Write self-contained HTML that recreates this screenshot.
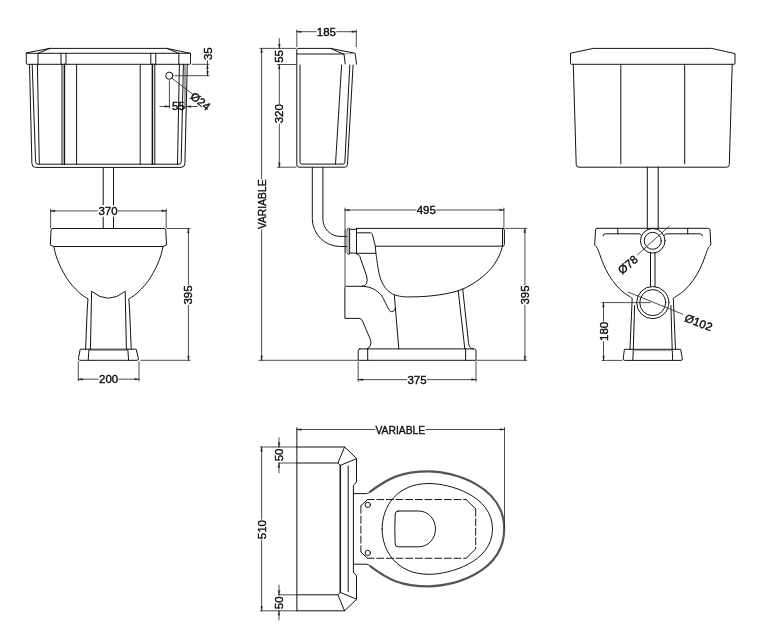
<!DOCTYPE html>
<html>
<head>
<meta charset="utf-8">
<title>Low level WC - technical drawing</title>
<style>
html,body{margin:0;padding:0;background:#fff;}
body{width:759px;height:643px;overflow:hidden;font-family:"Liberation Sans",sans-serif;}
svg{display:block;filter:grayscale(1);}
svg line,svg path,svg circle{fill:none;stroke:#141414;stroke-width:1.0;stroke-linecap:round;stroke-linejoin:round;}
svg .hv{stroke-width:1.5;}
svg .md{stroke-width:1.2;}
svg .thk{stroke-width:2.2;stroke:#555;}
svg .lt{stroke:#777;stroke-width:0.7;}
svg .dsh{stroke-linecap:butt;}
svg .gry{fill:#b4b0b0;stroke:none;}
svg .ar{fill:#1c1c1c;stroke:#1c1c1c;stroke-width:0.3;}
svg .bg{fill:#fff;stroke:none;}
svg text{font-family:"Liberation Sans",sans-serif;fill:#0c0c0c;stroke:#0c0c0c;stroke-width:0.38;text-anchor:middle;}
svg .dm line{stroke-width:0.85;stroke:#2e2e2e;}
</style>
</head>
<body>
<svg width="759" height="643" viewBox="0 0 759 643">
<rect x="0" y="0" width="759" height="643" fill="#ffffff"/>
<g class="geo">
<path d="M50,48.4 L166.8,48.4 L190.5,53.3 L190.5,63.3 Q190.5,64.3 189.5,64.3 L27.3,64.3 Q26.3,64.3 26.3,63.3 L26.3,53.3 Z"/>
<line x1="26.3" y1="53.3" x2="190.5" y2="53.3"/>
<line x1="38" y1="53.3" x2="38" y2="64.3"/>
<line x1="178.8" y1="53.3" x2="178.8" y2="64.3"/>
<line x1="61" y1="53.3" x2="61" y2="64.3"/>
<line x1="155.8" y1="53.3" x2="155.8" y2="64.3"/>
<line x1="66" y1="53.3" x2="66" y2="64.3"/>
<line x1="150.8" y1="53.3" x2="150.8" y2="64.3"/>
<line x1="38" y1="53.3" x2="50" y2="48.4"/>
<line x1="178.8" y1="53.3" x2="166.8" y2="48.4"/>
<path d="M29.5,64.3 L31.9,163.6 Q32.1,167.4 35.6,167.4 L181.2,167.4 Q184.7,167.4 184.9,163.6 L187.3,64.3"/>
<path d="M32.2,64.3 L35.6,161.8 Q35.8,164.2 37.8,164.2 L179,164.2 Q181,164.2 181.2,161.8 L183.4,64.3"/>
<line x1="37.4" y1="64.3" x2="39.3" y2="164.2"/>
<line x1="179.4" y1="64.3" x2="177.5" y2="164.2"/>
<line x1="62" y1="64.3" x2="62" y2="164.2"/>
<line x1="154.8" y1="64.3" x2="154.8" y2="164.2"/>
<line x1="64.4" y1="64.3" x2="64.4" y2="164.2" class="hv"/>
<line x1="152.4" y1="64.3" x2="152.4" y2="164.2" class="hv"/>
<line x1="76.6" y1="64.3" x2="76.6" y2="164.2"/>
<line x1="140.2" y1="64.3" x2="140.2" y2="164.2"/>
<line x1="103.2" y1="167.4" x2="103.2" y2="228.4"/>
<line x1="113.5" y1="167.4" x2="113.5" y2="228.4"/>
<circle cx="169.3" cy="75.7" r="3.6"/>
<path d="M52.7,228.5 L164.1,228.5 Q165.8,228.5 165.8,230.6 L166.5,245 L163,246.5 L53.8,246.5 L50.3,245 L51,230.6 Q51,228.5 52.7,228.5 Z"/>
<path d="M53.8,246.6 C54.15,248.03 55.01,252.31 55.9,255.2 C56.79,258.09 57.88,261.04 59.15,263.95 C60.42,266.86 61.87,269.74 63.5,272.65 C65.13,275.56 66.95,278.67 68.95,281.4 C70.95,284.12 73.33,286.73 75.5,289 C77.67,291.27 79.92,293.37 82,295 C84.08,296.63 87,298.17 88,298.8 L87.2,310 L85.6,349.2"/>
<path d="M163,246.6 C162.65,248.03 161.79,252.31 160.9,255.2 C160.01,258.09 158.92,261.04 157.65,263.95 C156.38,266.86 154.93,269.74 153.3,272.65 C151.67,275.56 149.85,278.67 147.85,281.4 C145.85,284.12 143.48,286.73 141.3,289 C139.12,291.27 136.88,293.37 134.8,295 C132.72,296.63 129.8,298.17 128.8,298.8 L129.6,310 L131.2,349.2"/>
<path d="M90.4,349.2 L91.6,291.3 Q108.4,305.2 125.2,291.3 L126.4,349.2"/>
<path d="M80.6,349.2 L136.2,349.2 L138.4,358.6 Q138.7,360.3 136.8,360.3 L80,360.3 Q78.1,360.3 78.4,358.6 Z"/>
<line x1="89" y1="349.2" x2="88.2" y2="360.3"/>
<line x1="127.8" y1="349.2" x2="128.6" y2="360.3"/>
<line x1="89" y1="350.5" x2="127.8" y2="350.5" class="lt"/>
<path d="M296.8,64.4 L296.8,49.4 Q296.8,48.4 297.8,48.4 L330.6,48.4 L355.2,53.3 L356.5,64.2"/>
<line x1="296.8" y1="54" x2="344" y2="54" class="md"/>
<line x1="344" y1="54" x2="355.2" y2="53.5" class="lt"/>
<path d="M330.6,48.4 L344,54.3 L345.2,63.9"/>
<path d="M296.8,65 L296.8,164.8 Q296.8,167.2 299.2,167.2 L344.8,167.2 Q347.2,167.2 347.45,164.8 L353.1,65"/>
<path d="M300,65 L300,162.3 Q300,164.1 301.8,164.1 L343,164.1 Q344.7,164.1 344.85,162.3 L349.8,65"/>
<line x1="341.6" y1="65" x2="335.5" y2="164.1"/>
<rect x="344.5" y="229.2" width="4.3" height="23.5" class="gry"/>
<path d="M312.3,167.2 L312.3,218.6 A27.9,27.9 0 0 0 340.2,246.5 L346.6,246.5"/>
<path d="M322.9,167.2 L322.9,219.2 A17.2,17.2 0 0 0 340.1,236.4 L346.6,236.4"/>
<path d="M347.5,229.3 Q347.7,228.2 348.7,228.2 L349.2,228.2 Q349.6,228.4 349.6,229.2 L349.6,253.4 Q349.6,254.2 349.2,254.4 L348.7,254.4 Q347.7,254.4 347.5,253.3"/>
<line x1="349.6" y1="229.3" x2="356.5" y2="229.3"/>
<line x1="349.6" y1="253.1" x2="356.5" y2="253.1"/>
<line x1="356.5" y1="228.3" x2="356.5" y2="253.5"/>
<path d="M356.6,228.4 L502.6,228.4 Q504.4,228.4 504.4,230.2 L504.4,244.4 Q504.4,246.2 502.6,246.2 L375.3,246.2"/>
<line x1="502.5" y1="228.4" x2="502.5" y2="246.2"/>
<path d="M356.6,232.8 L370.4,232.8 Q372,232.8 372.4,234.4 L375.3,246.2 L375.9,253.3  C376.32,256.04 377.57,265.35 378.4,269.75 C379.23,274.15 379.75,276.69 380.9,279.7 C382.05,282.71 383.78,285.68 385.3,287.8 C386.82,289.92 388.48,291.22 390,292.4 C391.52,293.58 393.67,294.48 394.4,294.9"/>
<line x1="356.6" y1="253.3" x2="375.9" y2="253.3"/>
<path d="M502.5,246.2 C502,247.67 500.92,251.9 499.5,255 C498.08,258.1 495.92,262 494,264.8 C492.08,267.6 490.33,269.47 488,271.8 C485.67,274.13 482.83,276.63 480,278.8 C477.17,280.97 474.03,283.02 471,284.8 C467.97,286.58 465.3,288.15 461.8,289.5 C458.3,290.85 453.97,291.98 450,292.9 C446.03,293.82 442.17,294.42 438,295 C433.83,295.58 429.67,296.08 425,296.4 C420.33,296.72 413.92,296.88 410,296.9 C406.08,296.92 404.1,296.83 401.5,296.5 C398.9,296.17 395.58,295.17 394.4,294.9"/>
<line x1="394.3" y1="294.9" x2="398.8" y2="348.9"/>
<line x1="458.2" y1="290.4" x2="464.8" y2="348.9"/>
<path d="M462.7,288.9 L468.6,343.5 Q469.2,348.9 473.5,348.9"/>
<path d="M356.6,253.8 Q358.9,254.3 359.8,256.4 L366.6,276 Q367.8,281 366.5,283.5 Q365.2,286.3 361.8,286.3 L346.3,286.3 Q344.9,286.3 344.9,287.7 L344.9,318.4 L359.2,318.4 Q361.3,318.6 362.5,321 L370.4,339.5 Q371.6,343.2 370.2,345.8 Q369,348.2 367,348.9"/>
<path d="M361.8,286.3 C362.5,286.35 364.47,286.33 366,286.6 C367.53,286.87 369.45,287.33 371,287.9 C372.55,288.47 373.97,289.18 375.3,290 C376.63,290.82 377.92,291.8 379,292.8 C380.08,293.8 381,294.87 381.8,296 C382.6,297.13 383.13,298.35 383.8,299.6 C384.47,300.85 385.13,302.17 385.8,303.5 C386.47,304.83 387.18,306.45 387.8,307.6 C388.42,308.75 388.93,309.73 389.5,310.4 C390.07,311.07 390.62,311.43 391.2,311.6 C391.78,311.77 392.43,311.67 393,311.4 C393.57,311.13 394.22,310.6 394.6,310 C394.98,309.4 395.18,308.17 395.3,307.8"/>
<path d="M359.8,348.9 L474.4,348.9 Q476,349.2 476,351 L476,360.3 L358.2,360.3 L358.2,351 Q358.2,349.2 359.8,348.9 Z"/>
<line x1="367.7" y1="348.9" x2="367.7" y2="360.3"/>
<line x1="465.6" y1="348.9" x2="465.6" y2="360.3"/>
<path d="M593.75,48.4 L711.75,48.4 L735,53.6 L735,63.3 Q735,64.3 734,64.3 L571.5,64.3 Q570.5,64.3 570.5,63.3 L570.5,53.6 Z"/>
<path d="M573.3,64.3 L576.2,164.6 Q576.3,167.2 578.9,167.2 L726.6,167.2 Q729.2,167.2 729.3,164.6 L732.2,64.3"/>
<line x1="620.8" y1="65" x2="620.8" y2="163.8"/>
<line x1="684.7" y1="65" x2="684.7" y2="163.8"/>
<line x1="647.3" y1="167.2" x2="647.3" y2="229.2"/>
<line x1="658.2" y1="167.2" x2="658.2" y2="229.2"/>
<path d="M597.2,228.3 Q595.6,228.3 595.5,230 L594.7,244 Q594.7,245.6 595.8,246.3 L597,247.3  C597.48,248.55 598.83,251.98 599.9,254.8 C600.97,257.62 601.88,260.8 603.4,264.2 C604.92,267.6 606.9,271.73 609,275.2 C611.1,278.67 613.67,282.2 616,285 C618.33,287.8 620.77,290.1 623,292 C625.23,293.9 627.87,295.35 629.4,296.4 C630.93,297.45 631.73,297.98 632.2,298.3 L630.0,349.3"/>
<path d="M597.2,228.3 L708.3,228.3 Q709.9,228.3 710,230 L710.8,244 Q710.8,245.6 709.7,246.3 L708.5,247.3  C708.02,248.55 706.67,251.98 705.6,254.8 C704.53,257.62 703.62,260.8 702.1,264.2 C700.58,267.6 698.6,271.73 696.5,275.2 C694.4,278.67 691.83,282.2 689.5,285 C687.17,287.8 684.73,290.1 682.5,292 C680.27,293.9 677.63,295.35 676.1,296.4 C674.57,297.45 673.77,297.98 673.3,298.3 L675.5,349.3"/>
<path d="M603.1,235.8 Q603.3,233.8 605.4,233.8 L639,233.8 Q640.6,233.9 641.2,235.4"/>
<path d="M702.4,235.8 Q702.2,233.8 700.1,233.8 L666.5,233.8 Q664.9,233.9 664.3,235.4"/>
<line x1="617.8" y1="228.3" x2="617.8" y2="233.8"/>
<line x1="687.7" y1="228.3" x2="687.7" y2="233.8"/>
<circle cx="652.75" cy="240.8" r="12.3"/>
<circle cx="652.75" cy="240.8" r="8.5"/>
<circle cx="652.75" cy="302.6" r="16.1"/>
<circle cx="652.75" cy="302.6" r="13"/>
<line x1="650.5" y1="252.9" x2="650.5" y2="286.7"/>
<line x1="655" y1="252.9" x2="655" y2="286.7"/>
<line x1="634.6" y1="305.5" x2="633.3" y2="349.3"/>
<line x1="670.9" y1="305.5" x2="672.2" y2="349.3"/>
<path d="M624.8,349.3 L680.7,349.3 L682.3,358.7 Q682.6,360.4 680.9,360.4 L624.6,360.4 Q622.9,360.4 623.2,358.7 Z"/>
<line x1="633.3" y1="349.3" x2="632.8" y2="360.4"/>
<line x1="672.2" y1="349.3" x2="672.7" y2="360.4"/>
<line x1="633.3" y1="350.6" x2="672.2" y2="350.6" class="lt"/>
<line x1="296.9" y1="427.6" x2="296.9" y2="610.8"/>
<path d="M296.9,447 L344.6,447 L356.5,458.4 L356.5,481.9 L353.4,485.5 L353.4,572.3 L356.5,575.9 L356.5,599.4 L344.6,610.8 L296.9,610.8"/>
<line x1="296.9" y1="463" x2="337.9" y2="463"/>
<path d="M344.6,447 L337.9,463 L340.3,465.4 L356.3,458.7"/>
<line x1="296.9" y1="594.8" x2="337.9" y2="594.8"/>
<path d="M344.6,610.8 L337.9,594.8 L340.3,592.4 L356.3,599.1"/>
<line x1="340.3" y1="465.4" x2="340.3" y2="592.4" class="hv"/>
<line x1="348.2" y1="466" x2="348.2" y2="591.8"/>
<path d="M353.4,493.6 L366.3,493.6 Q368.8,493.5 370.5,491.5"/>
<path d="M353.4,564.2 L366.3,564.2 Q368.8,564.3 370.5,566.3"/>
<path d="M370.5,491.5 C387.7,478.6 400.7,471.4 429,471.4 C453.8,471.4 504.2,486.1 504.2,528.9 C504.2,571.7 453.8,586.4 429,586.4 C400.7,586.4 387.7,579.2 370.5,566.3" class="thk"/>
<path d="M382.1,528.9 C382.1,506.4 397,483.5 429,483.5 C449.3,483.5 492.5,495.5 492.5,528.9 C492.5,562.3 449.3,574.3 429,574.3 C397,574.3 382.1,551.4 382.1,528.9 Z"/>
<path d="M398.2,511 L418.8,511 A16.7,17.9 0 0 1 418.8,546.8 L398.2,546.8 Q395.4,546.8 395.2,543.8 Q394.4,528.9 395.2,514 Q395.4,511 398.2,511 Z"/>
<path d="M367.6,499.55 H466.2" class="dsh" stroke-dasharray="7.65 2" stroke-dashoffset="0.8"/>
<line x1="360.9" y1="505.7" x2="367.6" y2="499.55"/>
<line x1="466.2" y1="499.55" x2="475.7" y2="508.9"/>
<path d="M367.6,558.25 H466.2" class="dsh" stroke-dasharray="7.65 2" stroke-dashoffset="0.8"/>
<line x1="360.9" y1="552.1" x2="367.6" y2="558.25"/>
<line x1="466.2" y1="558.25" x2="475.7" y2="548.9"/>
<path d="M360.9,505.7 V552.1" class="dsh" stroke-dasharray="8 1.95"/>
<path d="M475.7,508.9 V548.9" class="dsh" stroke-dasharray="7.75 1.75"/>
<circle cx="367.8" cy="504.9" r="2.65"/>
<circle cx="367.8" cy="552.9" r="2.65"/>
</g>
<g class="dm">
<line x1="50.6" y1="209.2" x2="50.6" y2="228.2"/>
<line x1="166.2" y1="209.2" x2="166.2" y2="228.2"/>
<line x1="50.6" y1="210.9" x2="166.2" y2="210.9"/>
<path d="M50.6,210.9 L55,210.1 L55,211.7 Z" class="ar"/>
<path d="M166.2,210.9 L161.8,211.7 L161.8,210.1 Z" class="ar"/>
<line x1="167.2" y1="228.5" x2="190.2" y2="228.5"/>
<line x1="140.8" y1="360.3" x2="190.2" y2="360.3"/>
<line x1="188.4" y1="228.5" x2="188.4" y2="360.3"/>
<path d="M188.4,228.5 L189.2,232.9 L187.6,232.9 Z" class="ar"/>
<path d="M188.4,360.3 L187.6,355.9 L189.2,355.9 Z" class="ar"/>
<line x1="78.3" y1="361.6" x2="78.3" y2="381"/>
<line x1="139" y1="361.6" x2="139" y2="381"/>
<line x1="78.3" y1="379.2" x2="139" y2="379.2"/>
<path d="M78.3,379.2 L82.7,378.4 L82.7,380 Z" class="ar"/>
<path d="M139,379.2 L134.6,380 L134.6,378.4 Z" class="ar"/>
<line x1="192" y1="64.3" x2="209" y2="64.3"/>
<line x1="175" y1="75.7" x2="209" y2="75.7"/>
<line x1="207.5" y1="60.5" x2="207.5" y2="75.7"/>
<path d="M207.5,64.3 L208.3,68.7 L206.7,68.7 Z" class="ar"/>
<path d="M207.5,75.7 L206.7,71.3 L208.3,71.3 Z" class="ar"/>
<line x1="169.4" y1="80.6" x2="169.4" y2="108.2"/>
<line x1="185" y1="65" x2="185" y2="108.2"/>
<line x1="160" y1="106.5" x2="169.4" y2="106.5"/>
<path d="M169.4,106.5 L165,107.3 L165,105.7 Z" class="ar"/>
<line x1="186.6" y1="106.5" x2="197.4" y2="106.5"/>
<path d="M186.6,106.5 L191,105.7 L191,107.3 Z" class="ar"/>
<line x1="171.9" y1="78.2" x2="193.2" y2="94.6"/>
<line x1="296.8" y1="30" x2="296.8" y2="46.7"/>
<line x1="356.3" y1="30" x2="356.3" y2="46.7"/>
<line x1="296.8" y1="31.7" x2="356.3" y2="31.7"/>
<path d="M296.8,31.7 L301.2,30.9 L301.2,32.5 Z" class="ar"/>
<path d="M356.3,31.7 L351.9,32.5 L351.9,30.9 Z" class="ar"/>
<line x1="260" y1="48.4" x2="295.6" y2="48.4"/>
<line x1="277.5" y1="64.5" x2="295.8" y2="64.5"/>
<line x1="277.5" y1="167.2" x2="296" y2="167.2"/>
<line x1="279.3" y1="38.7" x2="279.3" y2="48.4"/>
<path d="M279.3,48.4 L278.5,44 L280.1,44 Z" class="ar"/>
<line x1="279.3" y1="64.5" x2="279.3" y2="167.2"/>
<path d="M279.3,64.5 L280.1,68.9 L278.5,68.9 Z" class="ar"/>
<path d="M279.3,167.2 L278.5,162.8 L280.1,162.8 Z" class="ar"/>
<line x1="258.8" y1="360.3" x2="357.4" y2="360.3"/>
<line x1="261.6" y1="48.4" x2="261.6" y2="360.3"/>
<path d="M261.6,48.4 L262.4,52.8 L260.8,52.8 Z" class="ar"/>
<path d="M261.6,360.3 L260.8,355.9 L262.4,355.9 Z" class="ar"/>
<line x1="345" y1="208" x2="345" y2="286"/>
<line x1="503.9" y1="208" x2="503.9" y2="228"/>
<line x1="345" y1="210" x2="503.9" y2="210"/>
<path d="M345,210 L349.4,209.2 L349.4,210.8 Z" class="ar"/>
<path d="M503.9,210 L499.5,210.8 L499.5,209.2 Z" class="ar"/>
<line x1="505.4" y1="228.4" x2="526.6" y2="228.4"/>
<line x1="477.2" y1="360.3" x2="526.6" y2="360.3"/>
<line x1="524.9" y1="228.4" x2="524.9" y2="360.3"/>
<path d="M524.9,228.4 L525.7,232.8 L524.1,232.8 Z" class="ar"/>
<path d="M524.9,360.3 L524.1,355.9 L525.7,355.9 Z" class="ar"/>
<line x1="358.2" y1="361.7" x2="358.2" y2="381.4"/>
<line x1="476" y1="361.7" x2="476" y2="381.4"/>
<line x1="358.2" y1="379.6" x2="476" y2="379.6"/>
<path d="M358.2,379.6 L362.6,378.8 L362.6,380.4 Z" class="ar"/>
<path d="M476,379.6 L471.6,380.4 L471.6,378.8 Z" class="ar"/>
<line x1="637.6" y1="254.7" x2="669.2" y2="226.3"/>
<line x1="628.3" y1="292.1" x2="682.8" y2="314.3"/>
<line x1="602" y1="302.6" x2="650.3" y2="302.6"/>
<line x1="602" y1="360.4" x2="621.8" y2="360.4"/>
<line x1="603.5" y1="302.6" x2="603.5" y2="360.4"/>
<path d="M603.5,302.6 L604.3,307 L602.7,307 Z" class="ar"/>
<path d="M603.5,360.4 L602.7,356 L604.3,356 Z" class="ar"/>
<line x1="504.5" y1="427.6" x2="504.5" y2="528"/>
<line x1="296.9" y1="429.5" x2="504.5" y2="429.5"/>
<path d="M296.9,429.5 L301.3,428.7 L301.3,430.3 Z" class="ar"/>
<path d="M504.5,429.5 L500.1,430.3 L500.1,428.7 Z" class="ar"/>
<line x1="260.5" y1="447" x2="296.9" y2="447"/>
<line x1="260.5" y1="610.8" x2="296.9" y2="610.8"/>
<line x1="261.6" y1="447" x2="261.6" y2="610.8"/>
<path d="M261.6,447 L262.4,451.4 L260.8,451.4 Z" class="ar"/>
<path d="M261.6,610.8 L260.8,606.4 L262.4,606.4 Z" class="ar"/>
<line x1="278.7" y1="463" x2="296.9" y2="463"/>
<line x1="278.7" y1="594.8" x2="296.9" y2="594.8"/>
<line x1="279" y1="437.9" x2="279" y2="447"/>
<path d="M279,447 L278.2,442.6 L279.8,442.6 Z" class="ar"/>
<line x1="279" y1="463" x2="279" y2="472.7"/>
<path d="M279,463 L279.8,467.4 L278.2,467.4 Z" class="ar"/>
<line x1="279" y1="619.9" x2="279" y2="610.8"/>
<path d="M279,610.8 L279.8,615.2 L278.2,615.2 Z" class="ar"/>
<line x1="279" y1="594.8" x2="279" y2="585.1"/>
<path d="M279,594.8 L278.2,590.4 L279.8,590.4 Z" class="ar"/>
</g>
<g class="tx">
<g transform="translate(108,210.9) rotate(0)"><rect x="-9.92" y="-5.75" width="19.84" height="11.5" class="bg"/><text x="0" y="4.08" font-size="11.4" textLength="19.14" lengthAdjust="spacingAndGlyphs">370</text></g>
<g transform="translate(188.4,295) rotate(-90)"><rect x="-9.92" y="-5.75" width="19.84" height="11.5" class="bg"/><text x="0" y="4.08" font-size="11.4" textLength="19.14" lengthAdjust="spacingAndGlyphs">395</text></g>
<g transform="translate(108.6,379.2) rotate(0)"><rect x="-9.92" y="-5.75" width="19.84" height="11.5" class="bg"/><text x="0" y="4.08" font-size="11.4" textLength="19.14" lengthAdjust="spacingAndGlyphs">200</text></g>
<g transform="translate(207.6,53.7) rotate(-90)"><rect x="-6.73" y="-5.75" width="13.46" height="11.5" class="bg"/><text x="0" y="4.08" font-size="11.4" textLength="12.76" lengthAdjust="spacingAndGlyphs">35</text></g>
<g transform="translate(178.4,106.3) rotate(0)"><text x="0" y="4.08" font-size="11.4" textLength="12.76" lengthAdjust="spacingAndGlyphs">55</text></g>
<g transform="translate(200.5,101.3) rotate(38)"><text x="0" y="4.08" font-size="11.4" textLength="21.8" lengthAdjust="spacingAndGlyphs">&#216;24</text></g>
<g transform="translate(326.4,31.7) rotate(0)"><rect x="-9.92" y="-5.75" width="19.84" height="11.5" class="bg"/><text x="0" y="4.08" font-size="11.4" textLength="19.14" lengthAdjust="spacingAndGlyphs">185</text></g>
<g transform="translate(279.4,56.4) rotate(-90)"><text x="0" y="4.08" font-size="11.4" textLength="12.76" lengthAdjust="spacingAndGlyphs">55</text></g>
<g transform="translate(279.4,113.8) rotate(-90)"><rect x="-9.92" y="-5.75" width="19.84" height="11.5" class="bg"/><text x="0" y="4.08" font-size="11.4" textLength="19.14" lengthAdjust="spacingAndGlyphs">320</text></g>
<g transform="translate(261.6,204.3) rotate(-90)"><rect x="-25.15" y="-5.75" width="50.3" height="11.5" class="bg"/><text x="0" y="4.08" font-size="11.4" textLength="49.6" lengthAdjust="spacingAndGlyphs">VARIABLE</text></g>
<g transform="translate(426.3,210) rotate(0)"><rect x="-9.92" y="-5.75" width="19.84" height="11.5" class="bg"/><text x="0" y="4.08" font-size="11.4" textLength="19.14" lengthAdjust="spacingAndGlyphs">495</text></g>
<g transform="translate(524.9,295) rotate(-90)"><rect x="-9.92" y="-5.75" width="19.84" height="11.5" class="bg"/><text x="0" y="4.08" font-size="11.4" textLength="19.14" lengthAdjust="spacingAndGlyphs">395</text></g>
<g transform="translate(417,379.6) rotate(0)"><rect x="-9.92" y="-5.75" width="19.84" height="11.5" class="bg"/><text x="0" y="4.08" font-size="11.4" textLength="19.14" lengthAdjust="spacingAndGlyphs">375</text></g>
<g transform="translate(627.8,264.6) rotate(-40)"><text x="0" y="4.08" font-size="11.4" textLength="21.8" lengthAdjust="spacingAndGlyphs">&#216;78</text></g>
<g transform="translate(698.6,322.4) rotate(21)"><text x="0" y="4.08" font-size="11.4" textLength="28.6" lengthAdjust="spacingAndGlyphs">&#216;102</text></g>
<g transform="translate(603.5,331.4) rotate(-90)"><rect x="-9.92" y="-5.75" width="19.84" height="11.5" class="bg"/><text x="0" y="4.08" font-size="11.4" textLength="19.14" lengthAdjust="spacingAndGlyphs">180</text></g>
<g transform="translate(400.3,429.5) rotate(0)"><rect x="-25.25" y="-5.75" width="50.5" height="11.5" class="bg"/><text x="0" y="4.08" font-size="11.4" textLength="49.8" lengthAdjust="spacingAndGlyphs">VARIABLE</text></g>
<g transform="translate(261.6,529.6) rotate(-90)"><rect x="-9.92" y="-5.75" width="19.84" height="11.5" class="bg"/><text x="0" y="4.08" font-size="11.4" textLength="19.14" lengthAdjust="spacingAndGlyphs">510</text></g>
<g transform="translate(279.1,455) rotate(-90)"><text x="0" y="4.08" font-size="11.4" textLength="12.76" lengthAdjust="spacingAndGlyphs">50</text></g>
<g transform="translate(279.1,602.8) rotate(-90)"><text x="0" y="4.08" font-size="11.4" textLength="12.76" lengthAdjust="spacingAndGlyphs">50</text></g>
</g>
</svg>
</body>
</html>
